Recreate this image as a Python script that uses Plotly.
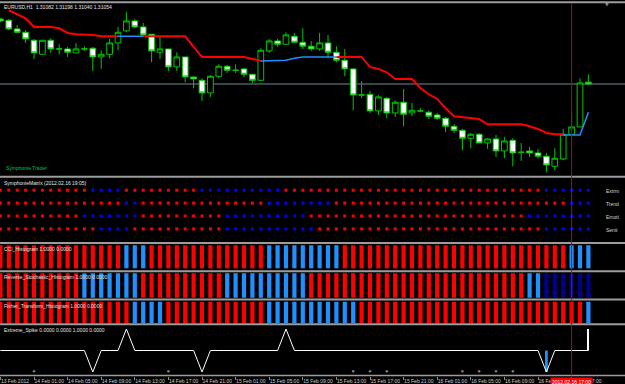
import plotly.graph_objects as go

# ---------------- data ----------------
N_BARS = 71
BAR_INDEX = list(range(N_BARS))  # 13 Feb 2012 21:00 ... 16 Feb 2012 19:00 (H1)

OPEN = [1.3203, 1.3201, 1.3188, 1.3183, 1.3171, 1.3150, 1.3171, 1.3158, 1.3158, 1.3152,
        1.3158, 1.3159, 1.3146, 1.3150, 1.3167, 1.3185, 1.3200, 1.3191, 1.3180, 1.3153,
        1.3158, 1.3131, 1.3146, 1.3116, 1.3111, 1.3092, 1.3117, 1.3132, 1.3126, 1.3128,
        1.3120, 1.3111, 1.3155, 1.3170, 1.3165, 1.3177, 1.3168, 1.3162, 1.3158, 1.3167,
        1.3153, 1.3141, 1.3128, 1.3089, 1.3090, 1.3065, 1.3084, 1.3062, 1.3078, 1.3062,
        1.3065, 1.3063, 1.3059, 1.3054, 1.3042, 1.3036, 1.3024, 1.3030, 1.3017, 1.3023,
        1.3005, 1.3021, 1.3003, 1.3005, 1.3002, 1.2997, 1.2982, 1.2993, 1.3030, 1.3041,
        1.31082]
HIGH = [1.3204, 1.3203, 1.3194, 1.3186, 1.3173, 1.3171, 1.3174, 1.3165, 1.3161, 1.3167,
        1.3162, 1.3161, 1.3156, 1.3173, 1.3191, 1.3213, 1.3203, 1.3197, 1.3180, 1.3177,
        1.3158, 1.3153, 1.3146, 1.3116, 1.3114, 1.3119, 1.3135, 1.3134, 1.3135, 1.3129,
        1.3120, 1.3159, 1.3173, 1.3173, 1.3183, 1.3182, 1.3189, 1.3170, 1.3182, 1.3179,
        1.3162, 1.3158, 1.3129, 1.3110, 1.3095, 1.3089, 1.3086, 1.3081, 1.3098, 1.3077,
        1.3069, 1.3066, 1.3062, 1.3056, 1.3045, 1.3038, 1.3032, 1.3032, 1.3024, 1.3029,
        1.3026, 1.3024, 1.3017, 1.3011, 1.3008, 1.3002, 1.3009, 1.3038, 1.3062, 1.3114,
        1.31198]
LOW = [1.3198, 1.3186, 1.3182, 1.3167, 1.3143, 1.3150, 1.3152, 1.3150, 1.3146, 1.3152,
       1.3155, 1.3125, 1.3128, 1.3144, 1.3156, 1.3183, 1.3189, 1.3176, 1.3138, 1.3143,
       1.3125, 1.3125, 1.3108, 1.3099, 1.3080, 1.3086, 1.3114, 1.3122, 1.3122, 1.3116,
       1.3107, 1.3110, 1.3152, 1.3161, 1.3164, 1.3167, 1.3158, 1.3155, 1.3155, 1.3144,
       1.3138, 1.3117, 1.3066, 1.3084, 1.3062, 1.3059, 1.3054, 1.3056, 1.3042, 1.3057,
       1.3063, 1.3053, 1.3051, 1.3033, 1.3032, 1.3006, 1.3009, 1.3017, 1.3008, 1.2996,
       1.2994, 1.2982, 1.2990, 1.2996, 1.2994, 1.2973, 1.2976, 1.2991, 1.3029, 1.3041,
       1.31040]
CLOSE = [1.3200, 1.3188, 1.3183, 1.3173, 1.3152, 1.3171, 1.3158, 1.3158, 1.3153, 1.3158,
         1.3158, 1.3146, 1.3150, 1.3167, 1.3183, 1.3200, 1.3191, 1.3179, 1.3155, 1.3158,
         1.3131, 1.3146, 1.3116, 1.3113, 1.3092, 1.3117, 1.3132, 1.3126, 1.3126, 1.3120,
         1.3111, 1.3156, 1.3170, 1.3165, 1.3179, 1.3168, 1.3162, 1.3158, 1.3167, 1.3153,
         1.3141, 1.3128, 1.3089, 1.3089, 1.3065, 1.3086, 1.3062, 1.3078, 1.3060, 1.3066,
         1.3065, 1.3057, 1.3054, 1.3042, 1.3036, 1.3024, 1.3030, 1.3017, 1.3023, 1.3005,
         1.3020, 1.3002, 1.3003, 1.3002, 1.2997, 1.2984, 1.2994, 1.3030, 1.3041, 1.3107,
         1.31054]

# trailing trend line: red while bearish, blue while bullish
TREND_RED = [None, 1.3216, 1.3210, 1.3204, 1.3191, 1.3191, 1.3191, 1.3189, 1.3182, 1.3180,
             1.3180, 1.3179, 1.3177, 1.3177, 1.3177, None, None, 1.3177, 1.3177, 1.3177,
             1.3177, 1.3177, 1.3177, 1.3161, 1.3146, 1.3146, 1.3146, 1.3146, 1.3146, 1.3146,
             1.3143, 1.3140, None, None, None, None, None, None, None, None,
             1.3146, 1.3146, 1.3146, 1.3146, 1.3131, 1.3128, 1.3123, 1.3113, 1.3113, 1.3113,
             1.3099, 1.3090, 1.3083, 1.3069, 1.3057, 1.3056, 1.3054, 1.3053, 1.3045, 1.3045,
             1.3045, 1.3045, 1.3045, 1.3042, 1.3038, 1.3032, 1.3030, 1.3030, None, None,
             None]
TREND_BLUE = [None, None, None, None, None, None, None, None, None, None,
              None, None, None, None, 1.3177, 1.3177, 1.3177, 1.3177, None, None,
              None, None, None, None, None, None, None, None, None, None,
              None, 1.3140, 1.3140, 1.3140, 1.3141, 1.3144, 1.3146, 1.3146, 1.3146, 1.3146,
              1.3146, None, None, None, None, None, None, None, None, None,
              None, None, None, None, None, None, None, None, None, None,
              None, None, None, None, None, None, None, 1.3029, 1.3029, 1.3029,
              1.3063]

# SymphonieMatrix rows (R = bearish red, B = bullish blue), one char per bar
MATRIX_ROWS = ["Extrm", "Trend", "Emoti", "Senti"]
MATRIX_LEVELS = [4, 3, 2, 1]
MATRIX_STATE = {
    "Extrm": "RRRRRRRRRR RBBBBRRRRR RRRRBBBBBB BBBBRRRRRR RRRRRRRRRR RRRRRRRRRR RRRRRBBBBB B",
    "Trend": "RRRRRRRRRR RRRRRBBRRR RRRRRRRRRR RRBBBBBBBB RRRRRRRRRR RRRRRRRRRR RRRRRRRRBB B",
    "Emoti": "RRRRRRRRRR BBBBBBBRRR RRRRRRRBBB BBBBBBBRRR RRRRRRRRRR RRRRRRRRRR RRRBBBBBBB B",
    "Senti": "RRRRRRRRRR RRBBBBRRRR RRRRRRRBBB BBBBBBBBRR RRRRRRRRRR RRRRRRRRRR RRRRRBBBBB B",
}

# histogram indicators (R red, B dodger blue, N navy)
CCI_STATE =    "RRRRRRRRRR RRRRRBBBRR RRRRRRRRRR RRBBBBBBBB BRRRRRRRRR RRRRRRRRRR RRRRRRRRBB B"
RSTOCH_STATE = "RRRRRRRRRR BBBBBBBRRR RRRRRRRBBB BBBBBBBRRR RRRRRRRRRR RRRRRRRRRR RRRBBNNNNN N"
FISHER_STATE = "RRRRRRRRRR RRRRRRBBBB RRRRRRRRRR RRBBBBBBBB BBBRRRRRRR RRRRRRRRRR RRRRRRRRRR B"

# Extreme_Spike
SPIKE_LINE = [0, 0, 0, 0, 0, 0, 0, 0, 0, 0,
              0, -1, 0, 0, 0, 1, 0, 0, 0, 0,
              0, 0, 0, 0, -1, 0, 0, 0, 0, 0,
              0, 0, 0, 0, 1, 0, 0, 0, 0, 0,
              0, 0, 0, 0, 0, 0, 0, 0, 0, 0,
              0, 0, 0, 0, 0, 0, 0, 0, 0, 0,
              0, 0, 0, 0, 0, -1, 0, 0, 0, 0,
              0]
SPIKE_DOWN_X = [65]
SPIKE_DOWN_Y = [-1.0]
SPIKE_UP_X = [70]
SPIKE_UP_Y = [1.0]
SPIKE_DOT_X = [4, 20, 42, 44, 46, 55, 57, 59, 61]
SPIKE_DOT_Y = [-0.96, -0.96, -0.96, -0.96, -0.96, -0.96, -0.96, -0.96, -0.96]

TICK_BARS = [0, 4, 8, 12, 16, 20, 24, 28, 32, 36, 40, 44, 48, 52, 56, 60, 64, 68]
TICK_TEXT = ["13 Feb 2012", "14 Feb 01:00", "14 Feb 05:00", "14 Feb 09:00", "14 Feb 13:00",
             "14 Feb 17:00", "14 Feb 21:00", "15 Feb 01:00", "15 Feb 05:00", "15 Feb 09:00",
             "15 Feb 13:00", "15 Feb 17:00", "15 Feb 21:00", "16 Feb 01:00", "16 Feb 05:00",
             "16 Feb 09:00", "16 Feb 13:00", "16 Feb 17:00"]

VLINE_BAR = 68
VLINE_LABEL = "2012.02.16 17:00"
SYMBOL = "EURUSD,H1"
MATRIX_TITLE = "SymphonieMatrix (2012.02.16 19:05)"

# ---------------- styling ----------------
W, H = 625, 384
MB = 8
PLOT_H = H - MB
FONT = "Liberation Sans"
GREEN = "#00c800"
RED = "#ff0000"
DBLUE = "#1e90ff"
NAVY = "#00008b"
MBLUE = "#0000ff"
SEP = "#9c9c9c"


def py2p(py):
    return (PLOT_H - py) / PLOT_H


def px2p(px):
    return px / W


def state_list(s):
    return [c for c in s if c != " "]


HCOL = {"R": RED, "B": DBLUE, "N": NAVY}

fig = go.Figure()

# main chart
fig.add_trace(go.Candlestick(
    x=BAR_INDEX, open=OPEN, high=HIGH, low=LOW, close=CLOSE,
    increasing=dict(line=dict(color=GREEN, width=1), fillcolor="#000000"),
    decreasing=dict(line=dict(color=GREEN, width=1), fillcolor="#ffffff"),
    whiskerwidth=0, xaxis="x", yaxis="y", hoverinfo="skip"))
fig.add_trace(go.Scatter(x=BAR_INDEX, y=TREND_RED, mode="lines", connectgaps=False,
                         line=dict(color=RED, width=2), xaxis="x", yaxis="y", hoverinfo="skip"))
fig.add_trace(go.Scatter(x=BAR_INDEX, y=TREND_BLUE, mode="lines", connectgaps=False,
                         line=dict(color=DBLUE, width=1.5), xaxis="x", yaxis="y", hoverinfo="skip"))

# matrix
for name, lvl in zip(MATRIX_ROWS, MATRIX_LEVELS):
    st = state_list(MATRIX_STATE[name])
    fig.add_trace(go.Scatter(
        x=BAR_INDEX, y=[lvl] * len(st), mode="markers",
        marker=dict(symbol="square", size=3, color=[RED if c == "R" else MBLUE for c in st],
                    line=dict(width=0)),
        xaxis="x", yaxis="y2", hoverinfo="skip"))

# histograms
for st_str, ax in [(CCI_STATE, "y3"), (RSTOCH_STATE, "y4"), (FISHER_STATE, "y5")]:
    st = state_list(st_str)
    fig.add_trace(go.Bar(x=BAR_INDEX, y=[1] * len(st), width=0.5,
                         marker=dict(color=[HCOL[c] for c in st], line=dict(width=0)),
                         xaxis="x", yaxis=ax, hoverinfo="skip"))

# extreme spike
fig.add_trace(go.Bar(x=SPIKE_DOWN_X, y=SPIKE_DOWN_Y, width=0.33,
                     marker=dict(color=DBLUE, line=dict(width=0)), xaxis="x", yaxis="y6", hoverinfo="skip"))
fig.add_trace(go.Bar(x=SPIKE_UP_X, y=SPIKE_UP_Y, width=0.13,
                     marker=dict(color="#ffffff", line=dict(width=0)), xaxis="x", yaxis="y6", hoverinfo="skip"))
fig.add_trace(go.Scatter(x=BAR_INDEX, y=SPIKE_LINE, mode="lines", line=dict(color="#ffffff", width=1),
                         xaxis="x", yaxis="y6", hoverinfo="skip"))
fig.add_trace(go.Scatter(x=SPIKE_DOT_X, y=SPIKE_DOT_Y, mode="markers",
                         marker=dict(color="#808080", size=2.5, line=dict(width=0)),
                         xaxis="x", yaxis="y6", hoverinfo="skip"))

# axes
def yax(py_top, py_bot, rng):
    return dict(domain=[py2p(py_bot), py2p(py_top)], range=rng, visible=False, anchor="x",
                fixedrange=True, showgrid=False, zeroline=False, automargin=False)

# price scale: 0.00015 per pixel, 1.31054 at pixel row 84
P_PER_PX = 0.00015
P_REF, PY_REF = CLOSE[-1], 84.0
def price_at(py):
    return P_REF + (PY_REF - py) * P_PER_PX

layout_axes = dict(
    xaxis=dict(range=[-0.048, 74.357], anchor="y6", tickmode="array", tickvals=TICK_BARS, ticktext=TICK_TEXT,
               ticks="outside", ticklen=3, tickwidth=1, tickcolor="#8a8a8a", tickangle=0,
               tickfont=dict(size=5, color="#cfcfcf", family=FONT), automargin=False,
               ticklabelposition="outside right", showgrid=False, zeroline=False, showline=False,
               rangeslider=dict(visible=False), fixedrange=True),
    yaxis=yax(3.3, 175.5, [price_at(175.5), price_at(3.3)]),
    yaxis2=yax(178.0, 242.0, [-0.0155, 4.946]),
    yaxis3=yax(244.3, 270.0, [-0.074, 1.043]),
    yaxis4=yax(272.4, 298.3, [-0.025, 1.037]),
    yaxis5=yax(300.5, 323.4, [-0.005, 1.056]),
    yaxis6=yax(325.5, 375.5, [-1.163, 1.163]),
)

shapes = []
# bid line
shapes.append(dict(type="line", xref="paper", x0=0, x1=1, yref="y", y0=CLOSE[-1], y1=CLOSE[-1],
                   line=dict(color="#778899", width=1), layer="below"))
# panel separators
for py, w in [(2.2, 2), (176.7, 2), (243.1, 2), (271.2, 2), (299.4, 2), (324.3, 2), (375.6, 1.5)]:
    shapes.append(dict(type="line", xref="paper", x0=0, x1=1, yref="paper", y0=py2p(py), y1=py2p(py),
                       line=dict(color=SEP, width=w)))
# vertical time line
shapes.append(dict(type="line", xref="x", x0=VLINE_BAR, x1=VLINE_BAR, yref="paper",
                   y0=py2p(375.5), y1=py2p(3.0), line=dict(color="#c80000", width=1)))

ann = []
def txt(s, px, py, color="#e6e6e6", size=5):
    ann.append(dict(text=s, x=px2p(px), y=py2p(py), xref="paper", yref="paper", xanchor="left",
                    yanchor="middle", showarrow=False, font=dict(family=FONT, size=size, color=color),
                    borderpad=0))

txt("%s  %.5f %.5f %.5f %.5f" % (SYMBOL, OPEN[-1], HIGH[-1], LOW[-1], CLOSE[-1]), 3, 6.8)
txt("Symphonie Trader", 5, 168, color="#00c060")
txt(MATRIX_TITLE, 3, 183.3)
txt("CCI_Histogram 1.0000 0.0000", 3, 249)
txt("Reverse_Stochastic_Histogram 1.0000 0.0000", 3, 277.3)
txt("Fisher_Transform_Histogram 1.0000 0.0000", 3, 305.7)
txt("Extreme_Spike 0.0000 0.0000 1.0000 0.0000", 3, 329.5)
for name, lvl in zip(MATRIX_ROWS, MATRIX_LEVELS):
    ann.append(dict(text=name, x=px2p(605), y=lvl, xref="paper", yref="y2", xanchor="left",
                    yanchor="middle", yshift=-1, showarrow=False, borderpad=0,
                    font=dict(family=FONT, size=5, color="#d8d8d8")))
# vertical line time label
ann.append(dict(text=VLINE_LABEL, x=VLINE_BAR, y=0, xref="x", yref="paper", xanchor="center", yanchor="top",
                showarrow=False, bgcolor="#ff0000", borderpad=1, yshift=-1,
                font=dict(family=FONT, size=5, color="#ffffff")))
# chart shift marker
ann.append(dict(text="\u25bc", x=px2p(607), y=py2p(4), xref="paper", yref="paper", xanchor="center",
                yanchor="middle", showarrow=False, font=dict(family="DejaVu Sans", size=5, color="#909090")))

fig.update_layout(width=W, height=H, margin=dict(l=0, r=0, t=0, b=MB, pad=0, autoexpand=False),
                  paper_bgcolor="#000000", plot_bgcolor="#000000", showlegend=False,
                  barmode="overlay", boxgap=0.32, boxgroupgap=0.0,
                  shapes=shapes, annotations=ann, **layout_axes)

fig.write_html("out.html")
